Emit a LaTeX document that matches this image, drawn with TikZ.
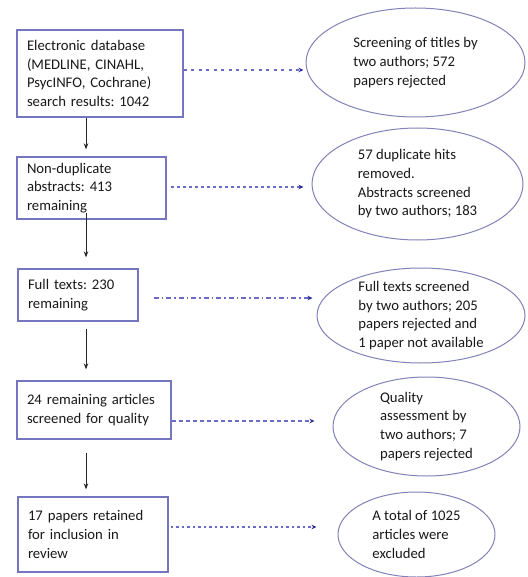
\documentclass[tikz,border=0pt]{standalone}
\usepackage{fontspec}
\setmainfont{Carlito}
\usetikzlibrary{shapes.geometric,arrows.meta}
\definecolor{boxc}{HTML}{7676C0}
\definecolor{ellc}{HTML}{8282B8}
\definecolor{linkc}{HTML}{6A6AC8}
\definecolor{tipc}{HTML}{2A2A90}
\frenchspacing
\begin{document}
\begin{tikzpicture}[x=1pt,y=-1pt,
 txt/.style={font=\fontsize{14.7}{18.7}\selectfont, text=black!90},
 stepbox/.style={txt, draw=boxc, line width=1.3pt, rectangle, align=left, inner xsep=10pt, inner ysep=0pt},
 outcome/.style={txt, draw=ellc, line width=1pt, ellipse, align=left, inner sep=-12pt},
 flow/.style={draw=black!85, line width=1pt, -{Stealth[length=6pt,width=4.5pt]}},
 side/.style={draw=linkc, line width=1.1pt, -{Stealth[length=5pt,width=4.5pt,color=tipc]}},
]
\useasboundingbox (0,0) rectangle (527,577);
\fill[white] (0,0) rectangle (527,577);

\node[stepbox, text width=146pt, minimum height=87pt] (b1) at (100,73.5)
  {Electronic database\\(MEDLINE, CINAHL,\\PsycINFO, Cochrane)\\search results: 1042};
\node[stepbox, text width=129pt, minimum height=62pt] (b2) at (91.5,188)
  {Non-duplicate\\abstracts: 413\\remaining};
\node[stepbox, text width=100pt, minimum height=52pt] (b3) at (78,295)
  {Full texts: 230\\remaining};
\node[stepbox, text width=134pt, minimum height=58pt] (b4) at (94,410)
  {24 remaining articles\\screened for quality};
\node[stepbox, text width=130pt, minimum height=75pt] (b5) at (93,534.5)
  {17 papers retained\\for inclusion in\\review};

\node[outcome, minimum width=219pt, minimum height=109pt] (e1) at (415.5,62.5)
  {Screening of titles by\\two authors; 572\\papers rejected};
\node[outcome, minimum width=211pt, minimum height=112pt] (e2) at (417.5,184)
  {57 duplicate hits\\removed.\\Abstracts screened\\by two authors; 183};
\node[outcome, minimum width=208pt, minimum height=95pt] (e3) at (421,315.5)
  {Full texts screened\\by two authors; 205\\papers rejected and\\1 paper not available};
\node[outcome, minimum width=187pt, minimum height=99pt] (e4) at (426.5,426.5)
  {Quality\\assessment by\\two authors; 7\\papers rejected};
\node[outcome, minimum width=157pt, minimum height=85pt] (e5) at (416.5,534.5)
  {A total of 1025\\articles were\\excluded};

\coordinate (axis) at (86,0);
\draw[flow, shorten >=7pt] (axis |- b1.south) -- (axis |- b2.north);
\draw[flow, shorten <=-7pt, shorten >=11pt] (axis |- b2.south) -- (axis |- b3.north);
\draw[flow, shorten <=7pt, shorten >=11pt] (axis |- b3.south) -- (axis |- b4.north);
\draw[flow, shorten <=13pt, shorten >=7pt] (axis |- b4.south) -- (axis |- b5.north);

\draw[side, dash pattern=on 3pt off 4.5pt, shorten >=2pt]
  ([yshift=3.5pt]b1.east) -- ([yshift=3.5pt]b1.east -| e1.west);
\draw[side, dash pattern=on 3pt off 3pt, shorten <=4pt, shorten >=8pt]
  ([yshift=1pt]b2.east) -- ([yshift=1pt]b2.east -| e2.west);
\draw[side, dash pattern=on 5pt off 3pt on 1.5pt off 3pt, shorten <=15pt, shorten >=4pt]
  ([yshift=-3pt]b3.east) -- ([yshift=-3pt]b3.east -| e3.west);
\draw[side, dash pattern=on 4pt off 3pt, shorten >=18pt]
  ([yshift=-11pt]b4.east) -- ([yshift=-11pt]b4.east -| e4.west);
\draw[side, dash pattern=on 2.5pt off 3pt, shorten <=2pt, shorten >=21pt]
  ([yshift=7.5pt]b5.east) -- ([yshift=7.5pt]b5.east -| e5.west);
\end{tikzpicture}
\end{document}
